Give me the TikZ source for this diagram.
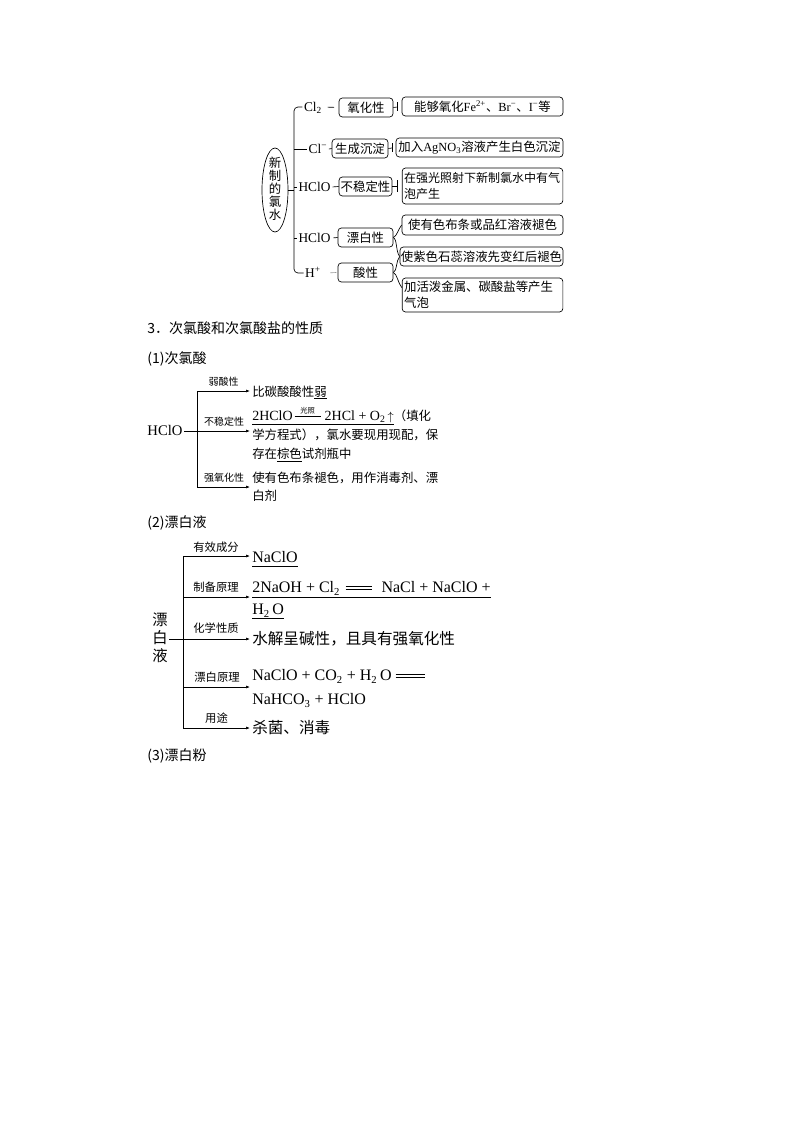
\documentclass[tikz,border=0pt]{standalone}
\usepackage{fontspec}
\setmainfont{Noto Sans CJK SC}
\newfontfamily\lat{Liberation Serif}
\usetikzlibrary{arrows.meta,shapes.geometric}
\newcommand\myfs[2]{\fontsize{#1pt}{#2pt}\selectfont}
\newcommand\lsub[1]{\textsubscript{#1}}
\newcommand\lsup[1]{\textsuperscript{#1}}
\newcommand\ulx[2][2pt]{\setbox0\hbox{#2}\rlap{\rule[-#1]{\wd0}{0.45pt}}\box0}
\newcommand\dbleq[1]{\raisebox{2.4pt}{\vbox{\hrule width #1 height 0.45pt\vskip 1.7pt\hrule width #1 height 0.45pt}}}
\newcommand\gz{\makebox[19.5pt]{\rlap{\rule[3pt]{19.5pt}{0.45pt}}\hfill\raisebox{5.5pt}{\rmfamily\myfs{5.5}{6}光照}\hfill}}
\tikzset{
  ln/.style={line width=0.5pt},
  bx/.style 2 args={draw, line width=0.5pt, rounded corners=2.5pt, minimum width=#1*0.75pt, minimum height=#2*0.75pt, inner sep=0pt, font=\myfs{9.3}{11}},
  bxm/.style={draw, line width=0.5pt, rounded corners=2.5pt, inner sep=1.5pt, text width=117.5pt, align=left, minimum height=#1*0.75pt},
  lb/.style={inner sep=1pt, font=\myfs{10}{11}, text height=6.8pt, text depth=0pt},
  arr/.style={line width=0.5pt, -{Latex[length=3pt,width=2.2pt]}},
  ta/.style={anchor=west, inner sep=0pt, font=\myfs{9.3}{11}, text height=8.2pt, text depth=1.1pt},
  tb/.style={anchor=west, inner sep=0pt, font=\myfs{11.7}{13}, text height=10.3pt, text depth=1.4pt},
  sa/.style={inner sep=0pt, font=\myfs{7.5}{8}, text height=6.6pt, text depth=0.9pt},
  sb/.style={inner sep=0pt, font=\myfs{8.5}{9}, text height=7.5pt, text depth=1pt},
  hd/.style={anchor=west, inner sep=0pt, font=\myfs{10.5}{12}, text height=9.2pt, text depth=1.3pt}
}
\begin{document}
\begin{tikzpicture}[x=0.75pt,y=-0.75pt]
\fill[white] (0,0) rectangle (794,1123);
\useasboundingbox (0,0) rectangle (794,1123);

% ===== top diagram =====
\node[draw, ellipse, line width=0.5pt, minimum width=19.5pt, minimum height=63pt, inner sep=0pt] (e) at (275,190) {};
\node[align=center, inner sep=0pt, font=\myfs{9.3}{9.75}] (et) at (275,189) {新\\制\\的\\氯\\水};
\coordinate (vt) at (294,107);
\coordinate (vm) at (294,190);
\coordinate (vb) at (294,273);

\node[lb] (l1) at (313,107) {\lat Cl\lsub{2}};
\node[lb] (l2) at (318,149) {\lat Cl\lsup{−}};
\node[lb] (l3) at (314.5,187) {\lat HClO};
\node[lb] (l4) at (314.5,238) {\lat HClO};
\node[lb] (l5) at (313,273) {\lat H\lsup{+}};

\node[bx={54}{19}] (b1) at (366,107.5) {氧化性};
\node[bx={56}{19}] (b2) at (360,148.5) {生成沉淀};
\node[bx={53}{19}] (b3) at (365.5,186.5) {不稳定性};
\node[bx={55}{19}] (b4) at (365.5,237.5) {漂白性};
\node[bx={55}{19}] (b5) at (365.5,272.5) {酸性};

\node[bx={161}{19}] (r1) at (482.5,106.5) {能够氧化{\lat Fe\lsup{2+}}、{\lat Br\lsup{−}}、{\lat I\lsup{−}}等};
\node[bx={167}{19}] (r2) at (479.5,147.5) {加入{\lat AgNO\lsub{3}}溶液产生白色沉淀};
\node[bxm=36, font=\myfs{9}{11.8}] (r3) at (482.5,186) {在强光照射下新制氯水中有气\\泡产生};
\node[bx={161}{20}] (r4) at (482.5,225) {使有色布条或品红溶液褪色};
\node[bx={163}{19}] (r5) at (481.5,256.5) {使紫色石蕊溶液先变红后褪色};
\node[bxm=34, font=\myfs{9.3}{11.8}] (r6) at (482.5,295) {加活泼金属、碳酸盐等产生\\气泡};

\draw[ln] (e.east) -- (vm);
\draw[ln, rounded corners=3pt] (l1.west) -- (vt) -- (vb) -- (l5.west);
\draw[ln] (vt |- l2) -- (l2.west);
\draw[ln] (vt |- l3) -- (l3.west);
\draw[ln] (vt |- l4) -- (l4.west);

\draw[ln, shorten <=3pt, shorten >=3.5pt] (l1.east) -- (b1.west);
\draw[ln] (l2.east) -- (b2.west);
\draw[ln, shorten <=0.5pt] (l3.east) -- (b3.west);
\draw[ln, shorten <=1pt] (l4.east) -- (b4.west);
\draw[ln, gray!80, shorten <=6pt, shorten >=1pt] (l5.east) -- (b5.west);

\coordinate (k1) at (397.5,107);
\coordinate (k2) at (392,148);
\coordinate (k3) at (397,186.5);
\draw[ln] (b1.east) -- (k1);
\draw[ln] (k1) ++(0,-4.5) -- ++(0,9);
\draw[ln] (b2.east) -- (k2);
\draw[ln] (k2) ++(0,-4.5) -- ++(0,9);
\draw[ln] (b3.east) -- (k3);
\draw[ln] (k3) ++(0,-6) -- ++(0,12);

\draw[ln] (b4.east) .. controls +(4,-2) and +(-4,5) .. (r4.west);
\draw[ln] (b4.east) .. controls +(4,2) and +(-4,-5) .. (r5.west);
\draw[ln] (b5.east) .. controls +(4,-2) and +(-4,5) .. (r5.west);
\draw[ln] (b5.east) .. controls +(4,2) and +(-4,-5) .. ([yshift=-7.5pt]r6.north west);

% ===== headings =====
\node[hd] (h3) at (147,328) {3．次氯酸和次氯酸盐的性质};
\node[hd] (h31) at (147,358) {(1)次氯酸};

% ===== section (1) =====
\node[inner sep=1pt, font=\myfs{11}{12}, text height=7.3pt, text depth=0pt] (hc) at (165,431) {\lat HClO};
\coordinate (v1t) at (197,391);
\coordinate (v1b) at (197,487);
\coordinate (a1) at (250,391);
\coordinate (a2) at (250,431);
\coordinate (a3) at (250,487);
\draw[ln] (v1t) -- (v1b);
\draw[arr] (v1t) -- (a1);
\draw[arr] (hc.east) -- (a2);
\draw[arr] (v1b) -- (a3);
\node[sa] (la1) at (223.5,382) {弱酸性};
\node[sa] (la2) at (224,422) {不稳定性};
\node[sa] (la3) at (224,478) {强氧化性};

\node[ta] (t1) at (252,392) {比碳酸酸性\ulx[1.6pt]{弱}};
\node[ta] (t2a) at (252,416) {\ulx[2.6pt]{{\myfs{10.5}{11}\lat 2HClO\hspace{1.5pt}\gz\hspace{3pt}2HCl + O\lsub{2}}\,$\uparrow$}（填化};
\node[ta] (t2b) at (252,435) {学方程式），氯水要现用现配，保};
\node[ta] (t2c) at (252,454) {存在\ulx[2.2pt]{棕色}试剂瓶中};
\node[ta] (t3a) at (252,478) {使有色布条褪色，用作消毒剂、漂};
\node[ta] (t3b) at (252,496) {白剂};

% ===== section (2) =====
\node[hd] (h32) at (147,522) {(2)漂白液};
\node[align=center, inner sep=1pt, font=\myfs{11.5}{13.5}] (p) at (160,638) {漂\\白\\液};
\coordinate (v2t) at (183,556);
\coordinate (v2b) at (183,728);
\coordinate (c1) at (183,597);
\coordinate (c2) at (183,687);
\coordinate (d0) at (250,556);
\coordinate (d1) at (250,597);
\coordinate (d2) at (250,639);
\coordinate (d3) at (250,687);
\coordinate (d4) at (250,728);
\draw[ln] (v2t) -- (v2b);
\draw[arr] (v2t) -- (d0);
\draw[arr] (c1) -- (d1);
\draw[arr] (p.east |- d2) -- (d2);
\draw[arr] (c2) -- (d3);
\draw[arr] (v2b) -- (d4);
\node[sb] (m0) at (216,547) {有效成分};
\node[sb] (m1) at (216,587) {制备原理};
\node[sb] (m2) at (216,628) {化学性质};
\node[sb] (m3) at (217,677) {漂白原理};
\node[sb] (m4) at (216.5,718) {用途};

\node[tb] (s1) at (252,557) {\ulx[3pt]{\lat\myfs{12}{13}NaClO}};
\node[tb] (s2a) at (252,587) {\ulx[3.6pt]{\lat\myfs{12}{13}2NaOH + Cl\lsub{2}\hspace{4pt}\dbleq{20pt}\hspace{7pt}NaCl + NaClO +}};
\node[tb] (s2b) at (252,609) {\ulx[3pt]{\lat\myfs{12}{13}H\lsub{2}\,O}};
\node[tb] (s3) at (252,639) {水解呈碱性，且具有强氧化性};
\node[tb] (s4a) at (252,675) {{\lat\myfs{12}{13}NaClO + CO\lsub{2} + H\lsub{2}\,O\hspace{3pt}\dbleq{22pt}}};
\node[tb] (s4b) at (252,699) {{\lat\myfs{12}{13}NaHCO\lsub{3} + HClO}};
\node[tb] (s5) at (252,728) {杀菌、消毒};

\node[hd] (h33) at (147,755) {(3)漂白粉};
\end{tikzpicture}
\end{document}
